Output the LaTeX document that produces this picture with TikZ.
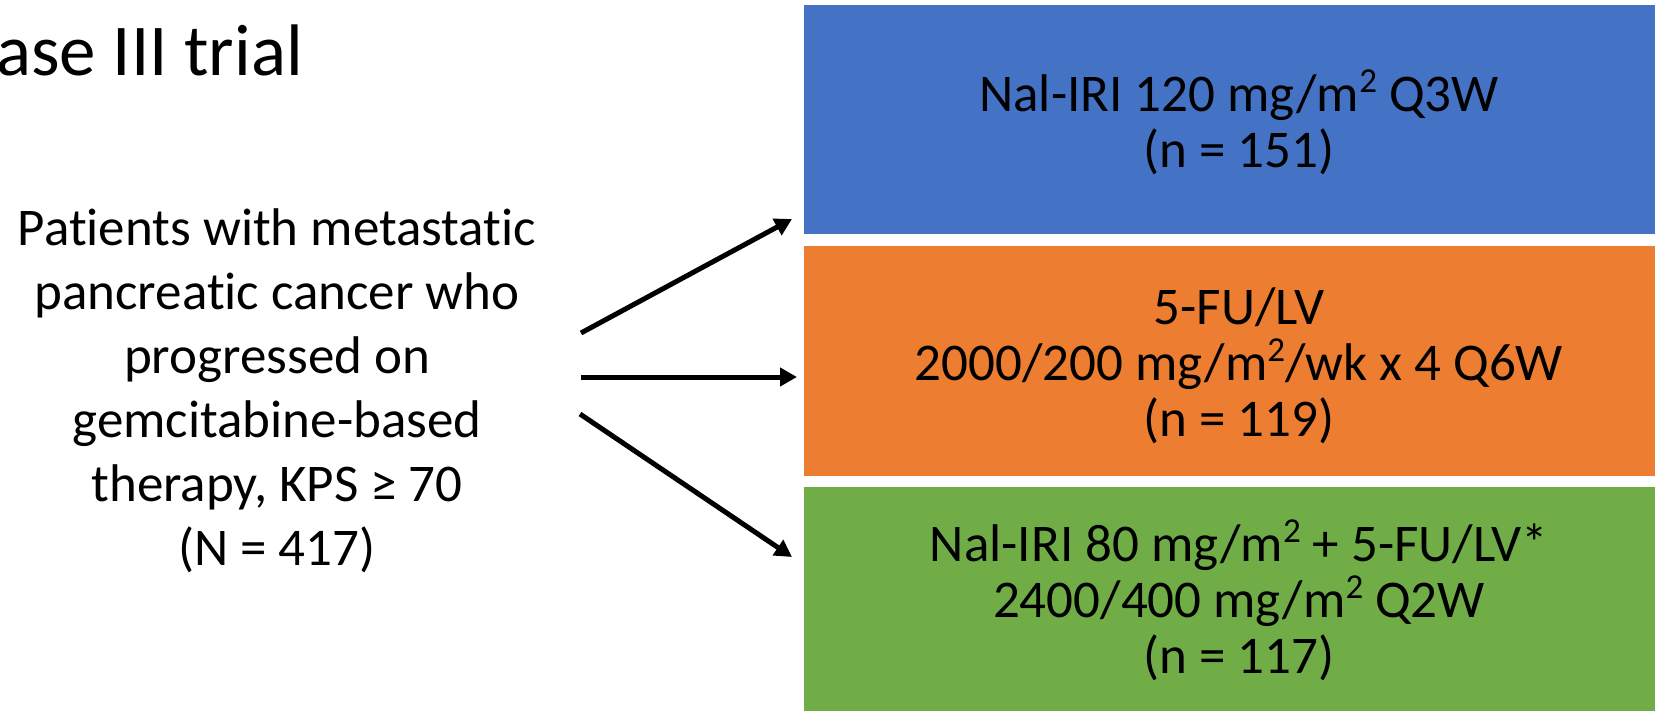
\documentclass[tikz,border=0pt]{standalone}
\usepackage{fontspec}
\setmainfont{Carlito}[Ligatures=NoCommon]
\usetikzlibrary{arrows.meta}
\definecolor{pblue}{HTML}{4472C4}
\definecolor{porange}{HTML}{ED7D31}
\definecolor{pgreen}{HTML}{70AD47}
\newcommand{\sqsup}{\raisebox{0.36em}{\fontsize{35}{35}\selectfont 2}}
\tikzset{
  armbox/.style={draw=none, minimum width=870pt, anchor=north west, inner sep=0pt},
  armtext/.style={align=center, font=\fontsize{53}{56}\selectfont, inner sep=0pt},
  arrowline/.style={line width=5pt, -{Triangle[length=17pt,width=18pt]}}
}
\begin{document}
\begin{tikzpicture}[x=1pt,y=-1pt]
\useasboundingbox (0,0) rectangle (1655,711);
\clip (0,0) rectangle (1655,711);
\node[font=\fontsize{73}{80}\selectfont, anchor=base east, inner sep=0pt] (title) at (303,76) {Phase III trial};
\node[armbox, fill=pblue, minimum height=229pt] (b1) at (804,5) {};
\node[armbox, fill=porange, minimum height=230pt] (b2) at (804,246) {};
\node[armbox, fill=pgreen, minimum height=226pt] (b3) at (804,487) {};
\node[armtext] (t1) at (1239,122) {Nal-IRI 120 mg/m\sqsup{} Q3W\\(n = 151)};
\node[armtext] (t2) at (1239,366) {5-FU/LV\\2000/200 mg/m\sqsup/wk x 4 Q6W\\(n = 119)};
\node[armtext] (t3) at (1239,600) {Nal-IRI 80 mg/m\sqsup{} + 5-FU/LV*\\2400/400 mg/m\sqsup{} Q2W\\(n = 117)};
\node[align=center, font=\fontsize{53}{64}\selectfont, inner sep=0pt] (pt) at (277,391) {Patients with metastatic\\pancreatic cancer who\\progressed on\\gemcitabine-based\\therapy, KPS ≥ 70\\(N = 417)};
\coordinate (s1) at (581,333);
\coordinate (e1) at (792,219);
\coordinate (s2) at (581,377);
\coordinate (e2) at (797,377);
\coordinate (s3) at (580,414);
\coordinate (e3) at (792,557);
\draw[arrowline] (s1) -- (e1);
\draw[arrowline] (s2) -- (e2);
\draw[arrowline] (s3) -- (e3);
\end{tikzpicture}
\end{document}
